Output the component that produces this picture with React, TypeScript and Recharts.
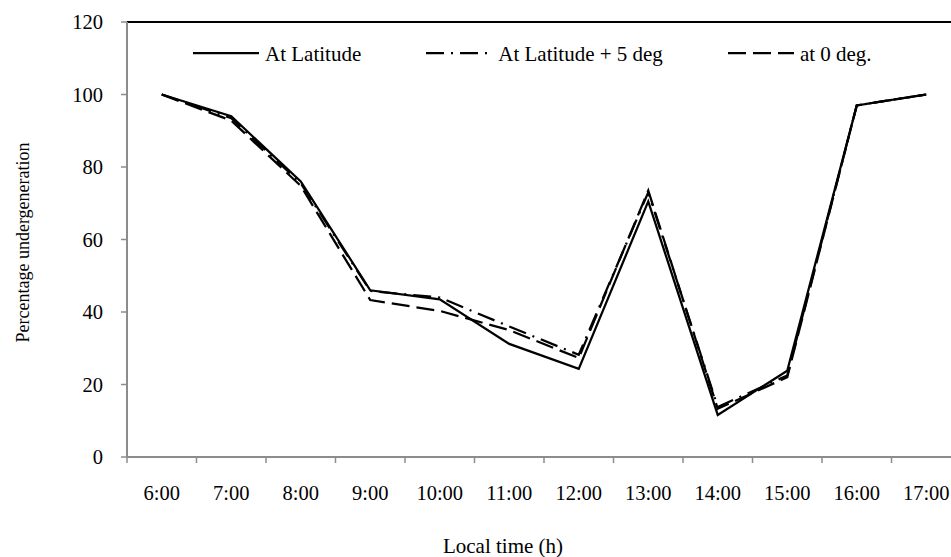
import React from 'react';
import { LineChart, Line, XAxis, YAxis, ReferenceLine } from 'recharts';

const categories = ['6:00', '7:00', '8:00', '9:00', '10:00', '11:00', '12:00', '13:00', '14:00', '15:00', '16:00', '17:00'];
const atLatitude = [100, 94, 76, 46, 43.5, 31.2, 24.3, 70.5, 11.6, 23.8, 97, 100];
const atLatitudePlus5 = [100, 93.5, 75.5, 45.8, 44, 36, 28.2, 73, 13.8, 22.5, 97, 100];
const atZero = [100, 92.8, 74.8, 43.3, 40.3, 35, 27.3, 73.5, 13.3, 22, 97, 100];
const yTicks = [0, 20, 40, 60, 80, 100, 120];

const seriesNames = ['At Latitude', 'At Latitude + 5 deg', 'at 0 deg.'];

const data = categories.map((c, i) => ({
  time: c,
  a: atLatitude[i],
  b: atLatitudePlus5[i],
  c: atZero[i],
}));

const FONT = '"Liberation Serif", "DejaVu Serif", serif';
const GRAY = '#8c8c8c';
const CHART_W = 975;
const CHART_H = 557;
const PLOT_LEFT = 127;
const PLOT_RIGHT = 961;
const PLOT_TOP = 22;
const PLOT_BOTTOM = 457;
const BAND = (PLOT_RIGHT - PLOT_LEFT) / categories.length;

const DASH_DOT = '18 7 2 7';
const DASHED = '18 7';

const XTick = (props: any) => {
  const { x, y, payload } = props;
  const bx = x - BAND / 2;
  return (
    <g>
      <line x1={bx} x2={bx} y1={y} y2={y + 6} stroke={GRAY} strokeWidth={1.5} />
      <text x={x} y={y + 43} textAnchor="middle" fill="#000" fontSize={20.5} fontFamily={FONT}>
        {payload.value}
      </text>
    </g>
  );
};

const YLabel = (props: any) => {
  const vb = props.viewBox || {};
  const cx = 28.5;
  const cy = (vb.y ?? PLOT_TOP) + (vb.height ?? PLOT_BOTTOM - PLOT_TOP) / 2 + 3;
  return (
    <text
      x={cx}
      y={cy}
      transform={`rotate(-90, ${cx}, ${cy})`}
      textAnchor="middle"
      fill="#000"
      fontSize={18}
      fontFamily={FONT}
    >
      Percentage undergeneration
    </text>
  );
};

const XLabel = () => {
  return (
    <text x={503} y={553} textAnchor="middle" fill="#000" fontSize={21} fontFamily={FONT}>
      Local time (h)
    </text>
  );
};

const legendItems = [
  { name: seriesNames[0], dash: undefined as string | undefined },
  { name: seriesNames[1], dash: DASH_DOT },
  { name: seriesNames[2], dash: DASHED },
];

export default function App() {
  return (
    <div
      style={{
        position: 'absolute',
        left: 0,
        top: 0,
        width: 951,
        height: 557,
        overflow: 'hidden',
        background: '#fff',
      }}
    >
      <LineChart
        width={CHART_W}
        height={CHART_H}
        data={data}
        margin={{ top: PLOT_TOP, right: CHART_W - PLOT_RIGHT, bottom: 0, left: 0 }}
      >
        <XAxis
          dataKey="time"
          type="category"
          scale="band"
          interval={0}
          height={CHART_H - PLOT_BOTTOM}
          tickLine={false}
          tickSize={0}
          tickMargin={0}
          axisLine={{ stroke: GRAY, strokeWidth: 2 }}
          tick={<XTick />}
          label={<XLabel />}
        />
        <YAxis
          width={PLOT_LEFT}
          domain={[0, 120]}
          ticks={yTicks}
          interval={0}
          tickSize={6}
          tickMargin={18}
          tickLine={{ stroke: GRAY, strokeWidth: 1.5 }}
          axisLine={{ stroke: GRAY, strokeWidth: 2 }}
          tick={{ fill: '#000', fontSize: 20.5, fontFamily: FONT }}
          label={<YLabel />}
        />
        <ReferenceLine y={120} stroke="#000" strokeWidth={2} />
        <Line
          type="linear"
          dataKey="a"
          name={seriesNames[0]}
          stroke="#000"
          strokeWidth={2.25}
          dot={false}
          activeDot={false}
          isAnimationActive={false}
        />
        <Line
          type="linear"
          dataKey="b"
          name={seriesNames[1]}
          stroke="#000"
          strokeWidth={2.25}
          strokeDasharray={DASH_DOT}
          dot={false}
          activeDot={false}
          isAnimationActive={false}
        />
        <Line
          type="linear"
          dataKey="c"
          name={seriesNames[2]}
          stroke="#000"
          strokeWidth={2.25}
          strokeDasharray={DASHED}
          dot={false}
          activeDot={false}
          isAnimationActive={false}
        />
      </LineChart>
      <div
        style={{
          position: 'absolute',
          left: 193,
          top: 42,
          display: 'flex',
          gap: 65,
          fontFamily: FONT,
          fontSize: 21,
          color: '#000',
        }}
      >
        {legendItems.map((it) => (
          <div key={it.name} style={{ display: 'flex', alignItems: 'center', height: 24, lineHeight: '24px' }}>
            <svg width={66} height={24} style={{ display: 'block' }}>
              <line x1={0} x2={66} y1={11} y2={11} stroke="#000" strokeWidth={2.25} strokeDasharray={it.dash} />
            </svg>
            <span style={{ marginLeft: 6, whiteSpace: 'nowrap' }}>{it.name}</span>
          </div>
        ))}
      </div>
    </div>
  );
}
